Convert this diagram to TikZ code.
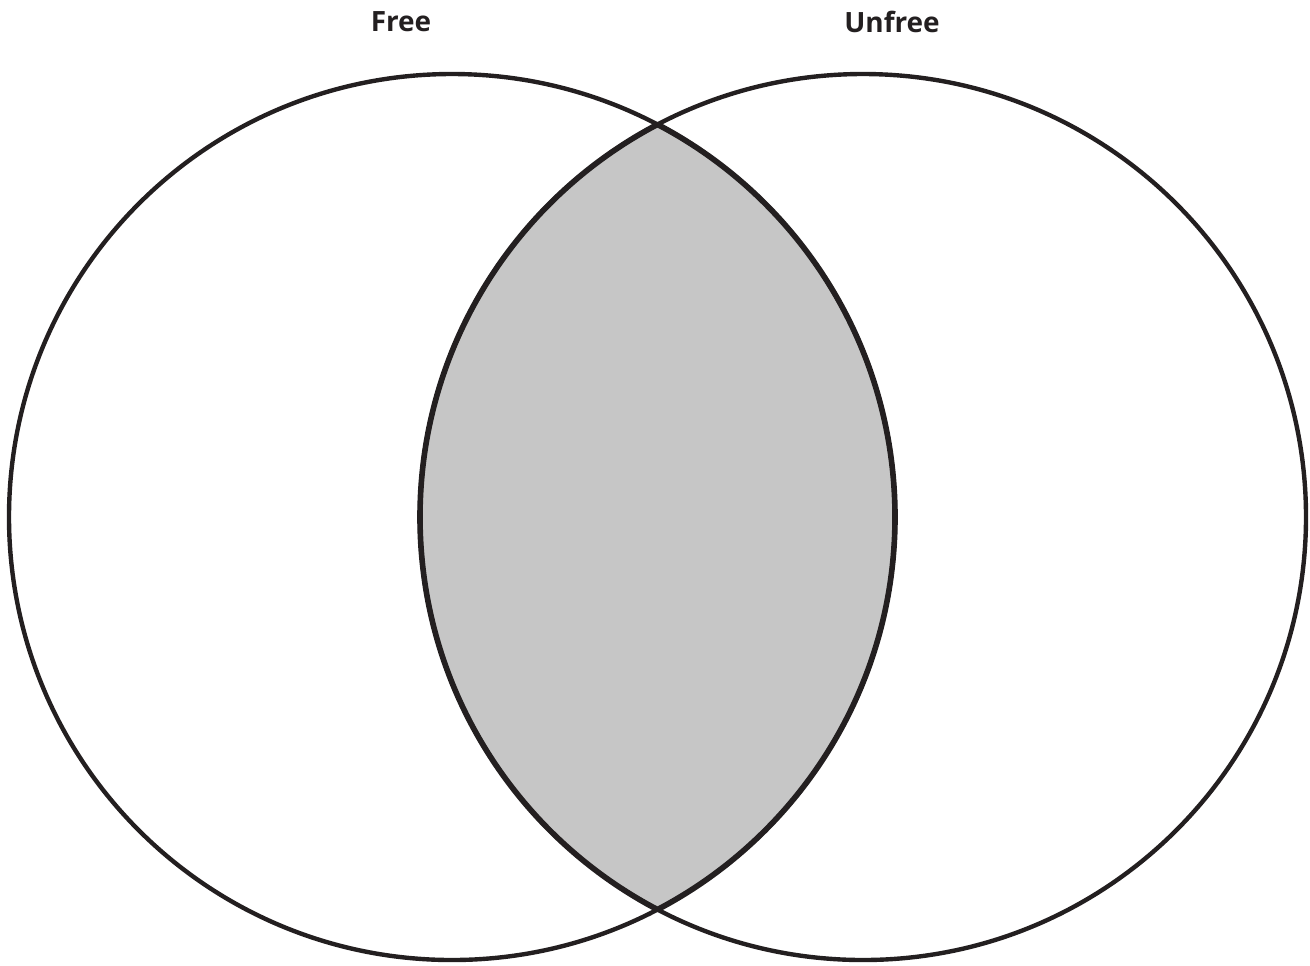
\documentclass[tikz,border=0pt]{standalone}
\usepackage{fontspec}
\setmainfont{Open Sans}
\usepackage{xcolor}
\usepackage{tikz}
\usetikzlibrary{positioning}

\definecolor{inkline}{HTML}{231F20}
\definecolor{overlapgray}{HTML}{C6C6C6}

\begin{document}
\begin{tikzpicture}[
    x=0.02cm, y=-0.02cm,
    setline/.style={draw=inkline, line width=2.5pt},
    lensline/.style={draw=inkline, line width=3.2pt},
    setlabel/.style={font=\fontsize{15.9}{18}\selectfont\bfseries, text=inkline, inner sep=0pt},
]
    \useasboundingbox (0,0) rectangle (1310,965);

    % ── Set centres ──
    \coordinate (freeC) at (452, 517);
    \coordinate (unfreeC) at (863, 517);

    % ── Overlap ──
    \begin{scope}
        \clip (freeC) circle[radius=443];
        \fill[overlapgray] (unfreeC) circle[radius=443];
        \draw[lensline] (unfreeC) circle[radius=443];
    \end{scope}
    \begin{scope}
        \clip (unfreeC) circle[radius=443];
        \draw[lensline] (freeC) circle[radius=443];
    \end{scope}

    % ── Outlines ──
    \draw[setline] (freeC) circle[radius=443];
    \draw[setline] (unfreeC) circle[radius=443];

    % ── Labels ──
    \node[setlabel] (labFree) at (401, 22) {Free};
    \node[setlabel] (labUnfree) at (892, 22) {Unfree};

\end{tikzpicture}
\end{document}
